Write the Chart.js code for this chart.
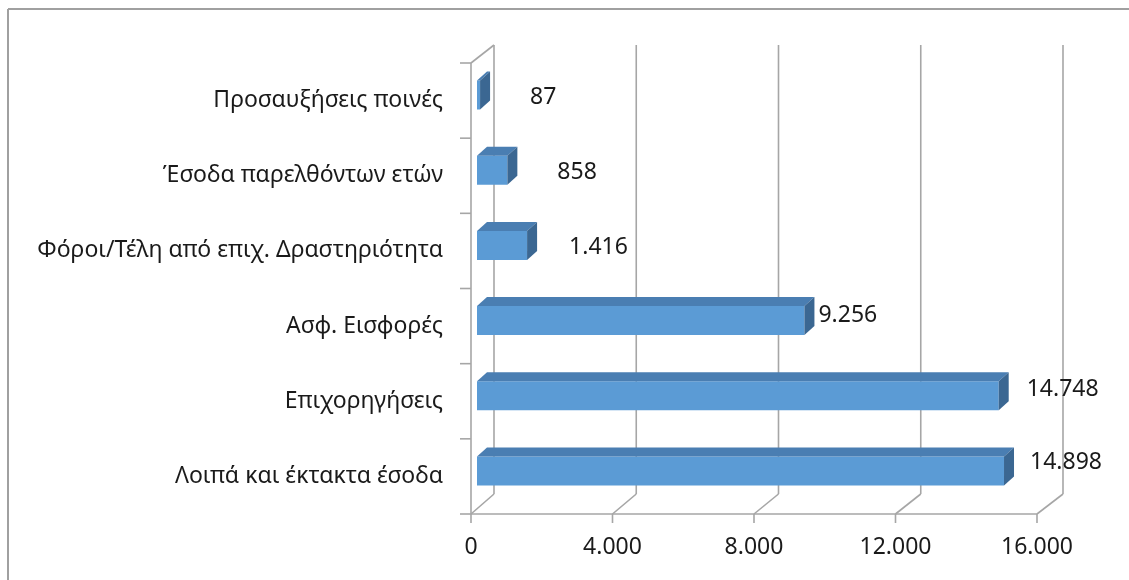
<!DOCTYPE html>
<html>
<head>
<meta charset="utf-8">
<script src="https://cdn.jsdelivr.net/npm/chart.js@4/dist/chart.umd.min.js"></script>
<style>
  body { margin: 0; background: #fff; }
  #wrap { width: 1129px; height: 580px; position: relative; }
</style>
</head>
<body>
<div id="wrap"><canvas id="myChart"></canvas></div>
<script>
// data, top to bottom as in the picture
const categories = [
    'Προσαυξήσεις ποινές',
    'Έσοδα παρελθόντων ετών',
    'Φόροι/Τέλη από επιχ. Δραστηριότητα',
    'Ασφ. Εισφορές',
    'Επιχορηγήσεις',
    'Λοιπά και έκτακτα έσοδα'
];
const values = [87, 858, 1416, 9256, 14748, 14898];
const xTicks = [0, 4000, 8000, 12000, 16000];

// label nudges (Excel places the 3D labels a bit unevenly)
const labelDx = [56, 56, 48, 20, 34, 32];
const labelDy = [-3, -3, -3, -11, -12, -14];

const FONT = 'Noto Sans';
const GRID = '#a6a6a6';
const FRONT = '#5b9bd5';
const TOP = '#4a7eb2';
const SIDE = '#3b6792';

function fmt(v) {
    return String(v).replace(/\B(?=(\d{3})+(?!\d))/g, '.');
}

function line(ctx, x1, y1, x2, y2) {
    ctx.beginPath();
    ctx.moveTo(x1, y1);
    ctx.lineTo(x2, y2);
    ctx.stroke();
}

// frame, walls, floor and 3D bar faces
const box3d = {
    id: 'box3d',
    beforeDraw(chart) {
        const ctx = chart.ctx;
        ctx.save();
        ctx.fillStyle = '#fff';
        ctx.fillRect(0, 0, chart.width, chart.height);
        ctx.strokeStyle = '#a0a0a0';
        ctx.lineWidth = 2;
        line(ctx, 8, 9, 8, chart.height);
        line(ctx, 8, 9, chart.width, 9);
        ctx.restore();
    },
    beforeDatasetsDraw(chart) {
        const ctx = chart.ctx;
        const a = chart.chartArea;
        const xs = chart.scales.x;
        const ys = chart.scales.y;
        const backX = px => px + 23 + 3 * (px - a.left) / (a.right - a.left);

        ctx.save();
        ctx.strokeStyle = GRID;
        ctx.lineWidth = 1.6;
        xTicks.forEach(t => {
            const px = xs.getPixelForValue(t);
            const bx = backX(px);
            line(ctx, bx, a.top - 18, bx, a.bottom - 20);
            line(ctx, px, a.bottom, bx, a.bottom - 20);
            line(ctx, px, a.bottom, px, a.bottom + 9);
        });
        line(ctx, a.left, a.bottom, a.right, a.bottom);
        line(ctx, a.left, a.top, a.left, a.bottom);
        line(ctx, a.left, a.top, backX(a.left), a.top - 18);
        for (let i = 0; i <= categories.length; i++) {
            const yb = ys.getPixelForValue(i - 0.5);
            line(ctx, a.left - 11, yb, a.left, yb);
        }
        ctx.restore();

        // bars sit a little behind the front plane
        ctx.save();
        ctx.translate(6, -5.5);
    },
    afterDatasetsDraw(chart) {
        const ctx = chart.ctx;
        const meta = chart.getDatasetMeta(0);
        const bdx = 10, bdy = -9;
        meta.data.forEach(el => {
            const x0 = el.base, x1 = el.x;
            const y0 = el.y - el.height / 2, y1 = el.y + el.height / 2;
            ctx.fillStyle = TOP;
            ctx.beginPath();
            ctx.moveTo(x0, y0);
            ctx.lineTo(x1, y0);
            ctx.lineTo(x1 + bdx, y0 + bdy);
            ctx.lineTo(x0 + bdx, y0 + bdy);
            ctx.closePath();
            ctx.fill();
            ctx.fillStyle = SIDE;
            ctx.beginPath();
            ctx.moveTo(x1, y0);
            ctx.lineTo(x1 + bdx, y0 + bdy);
            ctx.lineTo(x1 + bdx, y1 + bdy);
            ctx.lineTo(x1, y1);
            ctx.closePath();
            ctx.fill();
        });
        ctx.restore();

        // value labels
        ctx.save();
        ctx.font = '23px "' + FONT + '"';
        ctx.fillStyle = '#1a1a1a';
        ctx.textAlign = 'left';
        ctx.textBaseline = 'middle';
        meta.data.forEach((el, i) => {
            ctx.fillText(fmt(values[i]), el.x + labelDx[i], el.y + labelDy[i]);
        });
        ctx.restore();
    }
};

function createChart(labels, data) {
    const ctx = document.getElementById('myChart').getContext('2d');
    new Chart(ctx, {
        type: 'bar',
        data: {
            labels: labels,
            datasets: [{
                data: data,
                backgroundColor: FRONT,
                borderWidth: 0,
                barPercentage: 0.385,
                categoryPercentage: 1
            }]
        },
        options: {
            indexAxis: 'y',
            responsive: true,
            maintainAspectRatio: false,
            animation: false,
            layout: { padding: { top: 63, right: 92, left: 0, bottom: 0 } },
            plugins: {
                legend: { display: false },
                tooltip: { enabled: false }
            },
            scales: {
                x: {
                    min: 0,
                    max: 16000,
                    grid: { display: false, drawTicks: false },
                    border: { display: false },
                    afterBuildTicks: s => { s.ticks = xTicks.map(v => ({ value: v })); },
                    afterFit: s => { s.height = 66; },
                    ticks: {
                        padding: 20,
                        maxRotation: 0,
                        color: '#1a1a1a',
                        font: { family: FONT, size: 23 },
                        callback: v => fmt(v)
                    }
                },
                y: {
                    grid: { display: false, drawTicks: false },
                    border: { display: false },
                    afterFit: s => { s.width = 471; },
                    ticks: {
                        padding: 28,
                        color: '#1a1a1a',
                        font: { family: FONT, size: 23 }
                    }
                }
            }
        },
        plugins: [box3d]
    });
}

createChart(categories, values);
</script>
</body>
</html>
